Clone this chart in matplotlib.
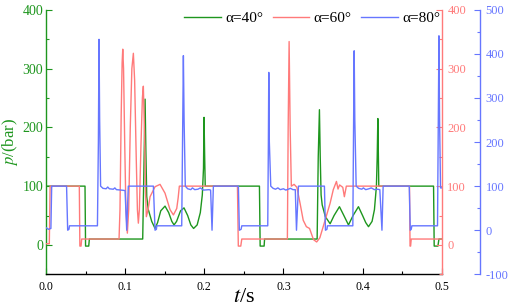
import matplotlib
matplotlib.use('Agg')
import matplotlib.pyplot as plt
from matplotlib.ticker import MultipleLocator

# ---------------- data ----------------
green_t = [0.0, 0.0493, 0.0500, 0.0540, 0.0548, 0.1222, 0.1240, 0.1252, 0.1262, 0.1273,
           0.1293, 0.1336, 0.1378, 0.1410, 0.1450, 0.1504, 0.1550, 0.1590, 0.1618, 0.1650,
           0.1700, 0.1744, 0.1790, 0.1830, 0.1865, 0.1910, 0.1950, 0.1975, 0.1990, 0.1997,
           0.2005, 0.2012, 0.2697, 0.2706, 0.2756, 0.2762, 0.3426, 0.3440, 0.3455, 0.3465,
           0.3476, 0.3490, 0.3530, 0.3590, 0.3640, 0.3708, 0.3760, 0.3822, 0.3880, 0.3948,
           0.4000, 0.4040, 0.4075, 0.4120, 0.4150, 0.4175, 0.4185, 0.4193, 0.4200, 0.4205,
           0.4897, 0.4905, 0.4952, 0.4965, 0.5]
green_v = [100, 100, -2, -2, 10, 10, 150, 248, 160, 82,
           60, 40, 28, 38, 58, 66, 55, 40, 34, 40,
           58, 63, 50, 34, 28, 34, 55, 85, 130, 217,
           150, 100, 100, -2, -2, 10, 10, 150, 230, 150,
           85, 68, 48, 36, 50, 65, 51, 34, 50, 65,
           50, 38, 31, 40, 60, 100, 150, 215, 150, 100,
           100, -2, -2, 10, 10]

red_t = [0.0, 0.0042, 0.0052, 0.0421, 0.0428, 0.0443, 0.0451, 0.0923, 0.0935, 0.0950,
         0.0962, 0.0970, 0.0980, 0.0995, 0.1010, 0.1028, 0.1045, 0.1065, 0.1085, 0.1104,
         0.1120, 0.1140, 0.1155, 0.1167, 0.1180, 0.1200, 0.1218, 0.1230, 0.1245, 0.1258,
         0.1268, 0.1290, 0.1315, 0.1378, 0.1441, 0.1504, 0.1567, 0.1610, 0.1652, 0.1670,
         0.1685, 0.2419, 0.2430, 0.2461, 0.2474, 0.3050, 0.3060, 0.3072, 0.3085, 0.3100,
         0.3135, 0.3170, 0.3210, 0.3250, 0.3290, 0.3330, 0.3380, 0.3420, 0.3460, 0.3500,
         0.3540, 0.3590, 0.3630, 0.3670, 0.3690, 0.3710, 0.3750, 0.3770, 0.3795, 0.4593,
         0.4600, 0.4607, 0.4615, 0.5]
red_v = [2, 2, 100, 100, -2, -2, 10, 10, 60, 220,
         310, 333, 300, 170, 60, 20, 60, 200, 300, 326,
         280, 150, 60, 37, 60, 170, 250, 270, 190, 90,
         48, 60, 82, 99, 103, 88, 60, 51, 62, 80,
         100, 100, -2, -2, 10, 10, 200, 346, 200, 100,
         103, 98, 71, 42, 31, 28, 9, 5, 12, 30,
         48, 71, 94, 108, 95, 102, 98, 82, 100, 100,
         -2, -2, 10, 10]

blue_t = [0.0, 0.0030, 0.0062, 0.0072, 0.0260, 0.0274, 0.0290, 0.0297, 0.0650, 0.0662,
          0.0670, 0.0678, 0.0690, 0.0720, 0.0760, 0.0780, 0.0800, 0.0850, 0.0870, 0.0890,
          0.0950, 0.0999, 0.1020, 0.1040, 0.1357, 0.1378, 0.1395, 0.1400, 0.1715, 0.1728,
          0.1736, 0.1745, 0.1760, 0.1790, 0.1830, 0.1850, 0.1880, 0.1920, 0.1950, 0.1990,
          0.2060, 0.2080, 0.2098, 0.2115, 0.2431, 0.2443, 0.2465, 0.2474, 0.2802, 0.2810,
          0.2815, 0.2822, 0.2840, 0.2870, 0.2900, 0.2930, 0.2960, 0.3000, 0.3030, 0.3060,
          0.3090, 0.3120, 0.3150, 0.3165, 0.3190, 0.3518, 0.3531, 0.3550, 0.3556, 0.3877,
          0.3887, 0.3894, 0.3902, 0.3919, 0.3950, 0.3990, 0.4010, 0.4040, 0.4080, 0.4110,
          0.4150, 0.4190, 0.4218, 0.4245, 0.4260, 0.4590, 0.4603, 0.4615, 0.4623, 0.4947,
          0.4957, 0.4965, 0.4973, 0.4985, 0.5]
blue_v = [6, 2, 4, 100, 100, 0, 2, 10, 10, 200,
          433, 250, 100, 95, 94, 98, 94, 93, 96, 92,
          91, 90, 0, 100, 100, 0, 2, 10, 10, 250,
          396, 250, 100, 94, 92, 96, 92, 93, 96, 91,
          92, 91, 0, 100, 100, 0, 2, 10, 10, 200,
          358, 200, 100, 95, 93, 96, 92, 94, 91, 93,
          95, 92, 92, 0, 100, 100, 0, 2, 10, 10,
          250, 407, 250, 100, 95, 93, 96, 92, 94, 96,
          92, 93, 92, 0, 100, 100, 0, 2, 10, 10,
          250, 441, 250, 96, 96]

legend_labels = ['α=40°', 'α=60°', 'α=80°']
x_ticks = [0.0, 0.1, 0.2, 0.3, 0.4, 0.5]
left_ticks = [0, 100, 200, 300, 400]
red_ticks = [0, 100, 200, 300, 400]
blue_ticks = [-100, 0, 100, 200, 300, 400, 500]

# ---------------- style ----------------
plt.rcParams['font.family'] = ['Liberation Serif', 'DejaVu Serif']
plt.rcParams['mathtext.fontset'] = 'stix'
plt.rcParams['axes.unicode_minus'] = False

c_green = '#1e961e'
c_red = '#ff7a7a'
c_blue = '#6676ff'
lw = 1.0

fig = plt.figure(figsize=(5.11, 3.06), dpi=100)
ax = fig.add_axes([0.090, 0.1036, 0.7744, 0.8644])
ax2 = ax.twinx()
ax3 = ax.twinx()
ax3.spines['right'].set_position(('axes', 1.097))

l1, = ax.plot(green_t, green_v, color=c_green, lw=lw)
l2, = ax2.plot(red_t, red_v, color=c_red, lw=lw)
l3, = ax3.plot(blue_t, blue_v, color=c_blue, lw=lw)

ax.set_xlim(0, 0.5)
ax.set_ylim(-50, 400)
ax2.set_ylim(-50, 400)
ax3.set_ylim(-100, 500)

# spines
for a in (ax, ax2, ax3):
    a.spines['top'].set_visible(False)
ax.spines['right'].set_visible(False)
ax.spines['left'].set_color(c_green)
ax.spines['bottom'].set_color('black')
for a in (ax2, ax3):
    a.spines['left'].set_visible(False)
    a.spines['bottom'].set_visible(False)
ax2.spines['right'].set_color(c_red)
ax3.spines['right'].set_color(c_blue)
for a in (ax, ax2, ax3):
    for s in a.spines.values():
        s.set_linewidth(1.0)

# ticks
ax.set_xticks(x_ticks)
ax.set_xticklabels([f'{v:.1f}' for v in x_ticks])
ax.xaxis.set_minor_locator(MultipleLocator(0.05))
ax.tick_params(axis='x', which='major', direction='in', length=4, width=0.8, pad=5, labelsize=8.5)
ax.tick_params(axis='x', which='minor', direction='in', length=2.5, width=0.8)

ax.set_yticks(left_ticks)
ax.yaxis.set_minor_locator(MultipleLocator(50))
ax.tick_params(axis='y', which='major', direction='in', length=4, width=0.8, pad=2,
               colors=c_green, labelsize=10)
ax.tick_params(axis='y', which='minor', direction='in', length=2.5, width=0.8, colors=c_green)

ax2.set_yticks(red_ticks)
ax2.yaxis.set_minor_locator(MultipleLocator(50))
ax2.tick_params(axis='y', which='major', direction='in', length=4, width=0.8, pad=4,
                colors=c_red, labelsize=9)
ax2.tick_params(axis='y', which='minor', direction='in', length=2.5, width=0.8, colors=c_red)

ax3.set_yticks(blue_ticks)
ax3.yaxis.set_minor_locator(MultipleLocator(50))
ax3.tick_params(axis='y', which='major', direction='in', length=4, width=0.8, pad=4,
                colors=c_blue, labelsize=9)
ax3.tick_params(axis='y', which='minor', direction='in', length=2.5, width=0.8, colors=c_blue)

# labels
ax.set_xlabel('$t$/s', fontsize=16)
ax.xaxis.set_label_coords(0.5, -0.05)
ax.set_ylabel('$p$/(bar)', fontsize=12, color=c_green)
ax.yaxis.set_label_coords(-0.066, 0.5)

ax3.legend([l1, l2, l3], legend_labels, loc='upper right', bbox_to_anchor=(1.0, 1.0),
           ncol=3, frameon=False, fontsize=11, handlelength=2.4, handletextpad=0.3,
           columnspacing=0.6, borderaxespad=0.0, borderpad=0.1)

fig.savefig('out.png', dpi=100)
